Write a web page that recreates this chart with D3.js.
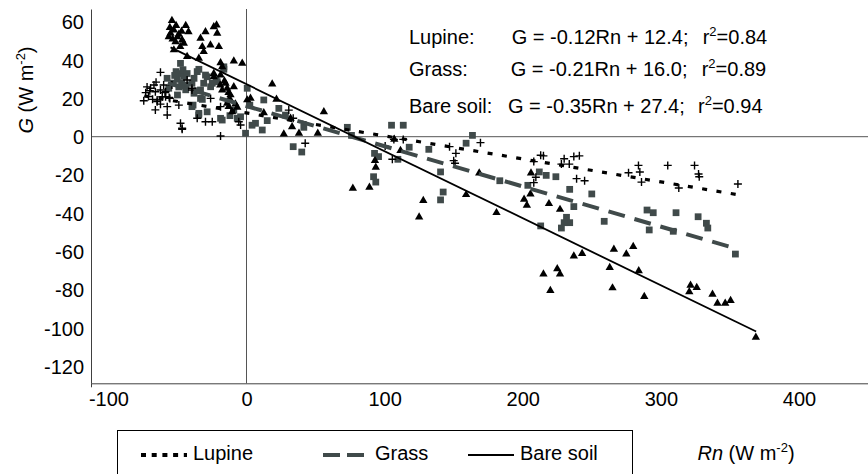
<!DOCTYPE html>
<html>
<head>
<meta charset="utf-8">
<script src="https://cdn.jsdelivr.net/npm/d3@7"></script>
<style>
  body { margin: 0; background: #fff; }
  text { font-family: "Liberation Sans", Arial, sans-serif; fill: #000; }
</style>
</head>
<body>
<svg id="chart" width="868" height="474"></svg>
<script>
// points, [Rn, G]
const lupine = [
    [-62.3, 33.6], [-73, 23], [-70, 24], [-66, 23.5], [-59, 23], [-74.4, 18.8], [-69.5, 25.3],
    [-67, 27], [-65.5, 28.5], [-62.3, 24.4], [-64.7, 19.2], [-62.3, 17], [-66, 14], [-57.4, 11.3],
    [-58.6, 20.9], [-56, 20.5], [-54, 27], [-61, 20.9], [-64.7, 18.3], [-57.4, 15.7], [-47.8, 7],
    [-46.6, 3.9], [-49, 16.5], [-35.7, 9.6], [-26, 20], [-29.7, 7.8], [-24.8, 7.8], [-18.8, 0.4],
    [-43, 29.6], [-4.3, 6.1], [-5.6, 7.8], [-18.8, 15.7], [-39.5, 25.3], [-58.6, 23.5], [-55.5, 20],
    [-39.5, 24.4], [30.6, 13.9], [33.8, 9.6], [-71, 21], [-68, 19.5], [-72, 26], [-60, 27], [-46.6, 4.4],
    [42.5, -3.4], [100.4, -4.9], [113.5, -1.4], [106.7, -1.4], [105.6, -11.8], [147, -5.2], [151.6, -8.7],
    [150, -12.5], [151, -13.9], [169.4, -3.1],
    [208, -13], [213, -9.7], [215, -10], [208, -24], [209.5, -21.2], [230, -11.5], [228, -14.3],
    [233.7, -14.3], [237, -10.4], [241, -10], [239, -21.9], [244.8, -23], [276.6, -18.8], [283.8, -15],
    [284.8, -18.4], [286, -23.7], [305, -15], [313, -26.8], [324.4, -15], [327.3, -19.5], [327.8, -20.9],
    [355.8, -24.7]
];
const grass = [
    [-47.8, 38.3], [-51, 34], [-48, 33], [-45, 31.5], [-50, 30], [-47, 28], [-44, 27], [-49, 26],
    [-52, 32], [-46, 35], [-43, 33], [-53, 28], [-57.5, 30.5], [-56.3, 25.3], [-50, 21.8], [-44, 24.5],
    [-39.5, 27.9], [-35.7, 34], [-28.5, 31.3], [-31, 27.9], [-33.3, 24.4], [-26, 26.1], [-16.4, 36.5],
    [-38.7, 16.5], [-38, 22.7], [-33.3, 20], [-28.5, 13], [-34.6, 11.3], [-18.8, 9.6], [-9.2, 13.9],
    [-6.7, 9.6], [-0.7, 1.8], [0.5, 25.3], [6.5, 7], [11.4, 3.5], [12.5, 19.2], [15, 8.4], [23.4, 14.8],
    [28.2, 11.3], [-38, 30.5], [-34.5, 35.2], [-29.7, 32.2], [-24.8, 27.9], [-16.4, 35.2], [-21.2, 28.7],
    [-35.8, 24], [-32, 19.5], [-39.5, 15.7], [-34.5, 12.2], [-17.6, 8.7], [-4.3, 10.4], [2.4, 16.5],
    [4, 6], [-22, 30], [-12, 11],
    [33.8, -5.2], [40, -8], [41.5, 4.9], [73, 4.9], [76, 0.7], [92.7, -8.7], [95.6, -10.4], [92, -20.9],
    [93.6, -23.7], [105, 6], [113.5, 6], [109.6, -11.8], [117.8, -5.5], [132, -6.6], [163.6, 0.7],
    [159, -3.4], [140.5, -18.4], [142.4, -28.9], [140.5, -33],
    [183.4, -23], [203.7, -25.4], [212, -18.4], [217, -20.2], [224, -20.9], [234, -27.5], [250, -29.9],
    [237, -36.5], [231.7, -42.1], [234, -44.9], [230, -44.9], [228, -47.7], [213, -46.6], [259, -44.2],
    [290, -38.3], [294.5, -39.7], [291.6, -48.7], [311, -39.7], [309, -49.4], [327, -41.8], [333, -45.2],
    [334, -47.7], [354, -61.3]
];
const bareSoil = [
    [-54, 60.6], [-44, 58], [-42, 54.8], [-55, 54], [-52.6, 55.7], [-56.3, 52.2], [-50, 52.2],
    [-46.6, 50.5], [-51.4, 49.6], [-52.6, 45.3], [-45.4, 48.8], [-33.3, 51.4], [-29.7, 54.8],
    [-23.7, 57.4], [-21.7, 58.3], [-21.2, 54], [-32, 47], [-31, 44.4], [-26.1, 47.9], [-20, 47],
    [-43, 41.8], [-34.5, 40.9], [-18.8, 38.6], [-9.2, 39.5], [-3.1, 38.3], [-17.6, 36.5], [-23.7, 31.3],
    [-18.8, 32.2], [-15.2, 27.9], [-14, 25.3], [-9.2, 26.1], [-17.6, 24.4], [-11.6, 19.2], [-14, 17.4],
    [0.5, 19.2], [2.9, 20], [12.5, 12.5], [18.6, 27.5], [21.7, 19.5], [31.9, 9.6], [27, 1.4], [33, 5.2],
    [38, 1.8], [-23.7, 33], [-11.6, 21.8], [-12.9, 15.7], [-10.4, 13], [-6.7, 15.3], [-13, 19], [-8, 17],
    [-53.5, 51], [-49, 53.5], [-55.5, 57], [-48, 47], [-51, 58], [-47, 55], [-16, 29], [-13, 23], [-19, 27],
    [56, 13], [51.6, 1.8], [93, -12.5], [93.6, -16], [77, -27], [89, -26.4], [107, -1.4], [111.5, -7.3],
    [128, -33.4], [125, -42], [168.5, -19], [159, -30.3],
    [181, -39.7], [206, -19], [205.6, -30], [201, -32.7], [203, -35.8], [219, -35], [227, -38],
    [215, -71.7], [220, -80.4], [225, -69], [227, -71.7], [237, -62.3], [243, -61], [266, -58.8],
    [263, -68.4], [265, -79], [275, -61.3], [280, -57.4], [284, -70], [288, -83.5], [321.5, -77.6],
    [320.6, -81], [326, -78.8], [337.4, -82.3], [341, -87], [346.6, -87], [350.5, -85.6], [368.8, -104.8]
];

const seriesNames = ["Lupine", "Grass", "Bare soil"];
const slopes = [-0.12, -0.21, -0.35];
const intercepts = [12.4, 16.0, 27.4];
const fitFrom = [-74, -57, -55];
const fitTo = [356, 355, 369];
const r2 = ["0.84", "0.89", "0.94"];
const xTicks = [-100, 0, 100, 200, 300, 400];
const yTicks = [-120, -100, -80, -60, -40, -20, 0, 20, 40, 60];

const svg = d3.select("#chart");
const x = d3.scaleLinear().domain([-112.6, 450]).range([91, 868]);
const y = d3.scaleLinear().domain([-128.8, 66.7]).range([383.3, 9]);

const lineStyles = [
    { stroke: "#000", width: 3.2, dash: "5,9.5" },
    { stroke: "#404a4a", width: 4, dash: "17,10" },
    { stroke: "#000", width: 1.8, dash: null }
];
const legendStyles = [
    { stroke: "#000", width: 4, dash: "5,5.7" },
    { stroke: "#404a4a", width: 4, dash: "17,7" },
    { stroke: "#000", width: 1.8, dash: null }
];

// zero lines
svg.append("line")
    .attr("x1", x(0)).attr("x2", x(0))
    .attr("y1", y.range()[1]).attr("y2", y.range()[0])
    .attr("stroke", "#555").attr("stroke-width", 1);
svg.append("line")
    .attr("x1", x.range()[0]).attr("x2", x.range()[1])
    .attr("y1", y(0)).attr("y2", y(0))
    .attr("stroke", "#555").attr("stroke-width", 1);

// axes (plain hyphen minus, like the figure)
let xAxis = svg.append("g")
    .attr("transform", `translate(0,${y.range()[0]})`)
    .call(d3.axisBottom(x).tickValues(xTicks).tickFormat((d) => String(d))
        .tickSize(0).tickSizeOuter(4).tickPadding(9));
let yAxis = svg.append("g")
    .attr("transform", `translate(${x.range()[0]},0)`)
    .call(d3.axisLeft(y).tickValues(yTicks).tickFormat((d) => String(d))
        .tickSize(0).tickPadding(7));
[xAxis, yAxis].forEach((g) => {
    g.attr("font-family", null).attr("font-size", 20);
    g.select(".domain").attr("stroke", "#404040");
    g.selectAll("text").attr("fill", "#000");
});
yAxis.selectAll("text").attr("dy", "0.35em");

// points
svg.append("g").selectAll("path")
    .data(grass)
    .enter()
    .append("path")
    .attr("d", d3.symbol(d3.symbolSquare, 46))
    .attr("transform", (d) => `translate(${x(d[0])},${y(d[1])})`)
    .attr("fill", "#404a4a");

svg.append("g").selectAll("path")
    .data(lupine)
    .enter()
    .append("path")
    .attr("d", "M-4,0H4M0,-4V4")
    .attr("transform", (d) => `translate(${x(d[0])},${y(d[1])})`)
    .attr("stroke", "#000")
    .attr("stroke-width", 1.4);

svg.append("g").selectAll("path")
    .data(bareSoil)
    .enter()
    .append("path")
    .attr("d", d3.symbol(d3.symbolTriangle, 30))
    .attr("transform", (d) => `translate(${x(d[0])},${y(d[1])})`)
    .attr("fill", "#000");

// fitted lines
svg.append("g").selectAll("line")
    .data(seriesNames)
    .enter()
    .append("line")
    .attr("x1", (d, i) => x(fitFrom[i]))
    .attr("y1", (d, i) => y(slopes[i] * fitFrom[i] + intercepts[i]))
    .attr("x2", (d, i) => x(fitTo[i]))
    .attr("y2", (d, i) => y(slopes[i] * fitTo[i] + intercepts[i]))
    .attr("stroke", (d, i) => lineStyles[i].stroke)
    .attr("stroke-width", (d, i) => lineStyles[i].width)
    .attr("stroke-dasharray", (d, i) => lineStyles[i].dash);

// equations
const eqBase = [44.3, 76, 113.3];
const eqX = [511.7, 510.7, 508];
const r2X = [702.7, 701.7, 698];
let eq = svg.append("g").attr("font-size", 20);
seriesNames.forEach((name, i) => {
    eq.append("text").attr("x", 409).attr("y", eqBase[i]).text(name + ":");
    let sign = intercepts[i] < 0 ? "-" : "+";
    eq.append("text").attr("x", eqX[i]).attr("y", eqBase[i])
        .text(`G = ${slopes[i].toFixed(2)}Rn ${sign} ${Math.abs(intercepts[i]).toFixed(1)};`);
    let t = eq.append("text").attr("x", r2X[i]).attr("y", eqBase[i]);
    t.append("tspan").text("r");
    t.append("tspan").attr("dy", -8).attr("font-size", 13).text("2");
    t.append("tspan").attr("dy", 8).text("=" + r2[i]);
});

// axis titles
let yTitle = svg.append("text")
    .attr("transform", "translate(33,90) rotate(-90)")
    .attr("text-anchor", "middle")
    .attr("font-size", 20);
yTitle.append("tspan").attr("font-style", "italic").text("G");
yTitle.append("tspan").text(" (W m");
yTitle.append("tspan").attr("dy", -8).attr("font-size", 13).text("-2");
yTitle.append("tspan").attr("dy", 8).text(")");

let xTitle = svg.append("text")
    .attr("x", 746).attr("y", 460)
    .attr("text-anchor", "middle")
    .attr("font-size", 20);
xTitle.append("tspan").attr("font-style", "italic").text("Rn");
xTitle.append("tspan").text(" (W m");
xTitle.append("tspan").attr("dy", -8).attr("font-size", 13).text("-2");
xTitle.append("tspan").attr("dy", 8).text(")");

// legend
svg.append("rect")
    .attr("x", 117.5).attr("y", 430.5)
    .attr("width", 515).attr("height", 60)
    .attr("fill", "none").attr("stroke", "#000").attr("stroke-width", 1);
const legX = [141, 323, 468];
let legend = svg.append("g").selectAll("g")
    .data(seriesNames)
    .enter()
    .append("g")
    .attr("transform", (d, i) => `translate(${legX[i]},455)`);
legend.append("line")
    .attr("x1", 0).attr("x2", 46)
    .attr("stroke", (d, i) => legendStyles[i].stroke)
    .attr("stroke-width", (d, i) => legendStyles[i].width)
    .attr("stroke-dasharray", (d, i) => legendStyles[i].dash);
legend.append("text")
    .attr("x", 52).attr("y", 5)
    .attr("font-size", 20)
    .text((d) => d);
</script>
</body>
</html>
